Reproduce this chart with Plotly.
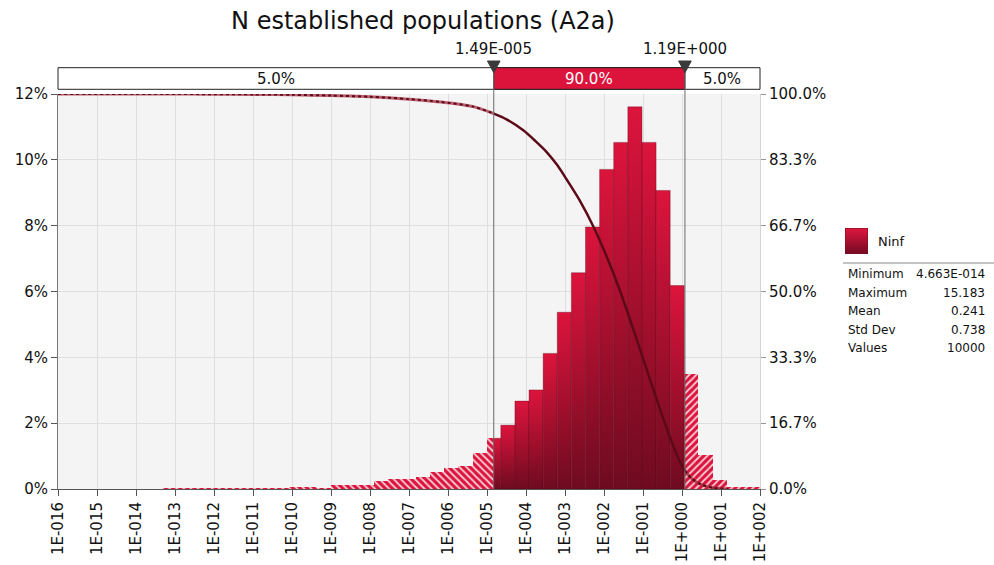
import numpy as np
import plotly.graph_objects as go

# ---------------------------------------------------------------- data
TITLE = "N established populations (A2a)"
SERIES = "Ninf"

# histogram: bins of equal width on a log10 scale, share of samples per bin (%)
BIN_START_LOG = np.log10(4.663e-14)
BIN_WIDTH_LOG = 0.3619
BIN_PCT = [0.02, 0.01, 0.01, 0.01, 0.01, 0.02, 0.01, 0.02,
           0.03, 0.04, 0.07, 0.02, 0.11, 0.11, 0.11, 0.23,
           0.30, 0.30, 0.36, 0.53, 0.65, 0.70, 1.08, 1.54,
           1.94, 2.67, 3.01, 4.12, 5.37, 6.57, 7.96, 9.71,
           10.53, 11.61, 10.53, 9.07, 6.18, 3.49, 1.03, 0.27,
           0.05, 0.05, 0.05]

# descending cumulative curve (log10 of value, % of samples above it)
CURVE_LOG = [-16.0, -13.3, -12.0, -11.0, -10.0, -9.0, -8.0, -7.0, -6.2,
             -5.35, -4.84, -4.5, -4.07, -3.75, -3.47, -3.2, -2.96, -2.62,
             -2.27, -1.93, -1.59, -1.25, -0.905, -0.564, -0.223, 0.033,
             0.25, 0.5, 0.8, 1.18]
CURVE_PCT = [100.0, 100.0, 99.95, 99.9, 99.8, 99.6, 99.3, 98.7, 98.0,
             96.8, 95.1, 93.6, 90.8, 88.0, 85.3, 82.0, 78.4, 73.0,
             66.4, 58.8, 50.2, 40.5, 30.2, 20.2, 10.8, 5.2,
             2.6, 1.1, 0.3, 0.0]

# delimiters (5th / 95th percentile) and the share in each band
P_LOW, P_HIGH = 1.49e-5, 1.19
BAND_PCT = [5.0, 90.0, 5.0]

# x axis decades and y axis ticks
DECADES = list(range(-16, 3))
LEFT_TICKS = [0, 2, 4, 6, 8, 10, 12]
RIGHT_TICKS = [0, 100 / 6, 200 / 6, 50, 400 / 6, 500 / 6, 100]

STATS_LABELS = ["Minimum", "Maximum", "Mean", "Std Dev", "Values"]
STATS_VALUES = ["4.663E-014", "15.183", "0.241", "0.738", "10000"]

# ---------------------------------------------------------------- style
FONT = "DejaVu Sans"
CRIMSON = "#dc143c"
DARK = "#6e0b20"
CURVE_DARK = "#5c0a18"

W, H = 994, 565
M_L, M_R, M_T, M_B = 58, 8, 94, 76
PLOT_R = 760                      # right edge of the histogram area (px)
PAPER_W = W - M_L - M_R
PAPER_H = H - M_T - M_B
X_DOMAIN_END = (PLOT_R - M_L) / PAPER_W


def px_x(p):
    return (p - M_L) / PAPER_W


def px_y(p):
    return (H - M_B - p) / PAPER_H


def sci(v, digits):
    e = int(np.floor(np.log10(v)))
    m = v / 10 ** e
    return f"{m:.{digits}f}E{e:+04d}"


lo_log, hi_log = np.log10(P_LOW), np.log10(P_HIGH)
x_min, x_max = DECADES[0], DECADES[-1]

fig = go.Figure()

# split every bin at the two delimiters
edges = BIN_START_LOG + BIN_WIDTH_LOG * np.arange(len(BIN_PCT) + 1)
left, mid, right = [], [], []
for a, b, h in zip(edges[:-1], edges[1:], BIN_PCT):
    if a < lo_log:
        left.append((a, min(b, lo_log), h))
    if b > lo_log and a < hi_log:
        mid.append((max(a, lo_log), min(b, hi_log), h))
    if b > hi_log:
        right.append((max(a, hi_log), b, h))


def hatched(parts, shape):
    return go.Bar(
        x=[(a + b) / 2 for a, b, _ in parts],
        y=[h for _, _, h in parts],
        width=[b - a for a, b, _ in parts],
        marker=dict(color=CRIMSON, line=dict(width=0),
                    pattern=dict(shape=shape, bgcolor=CRIMSON, fgcolor="white",
                                 fgopacity=0.8, size=5, solidity=0.35)),
        showlegend=False, hoverinfo="skip")


fig.add_trace(hatched(left, "\\"))
fig.add_trace(hatched(right, "/"))

# bars inside the 90% band: gradient from dark at the base to crimson at the top
for a, b, h in mid:
    fig.add_trace(go.Scatter(
        x=[a, a, b, b, a], y=[0, h, h, 0, 0], mode="lines", fill="toself",
        line=dict(color="rgba(90,0,20,0.35)", width=1),
        fillgradient=dict(type="vertical", colorscale=[[0, DARK], [1, CRIMSON]]),
        showlegend=False, hoverinfo="skip"))

# descending cumulative curve on the right axis
cx = np.array(CURVE_LOG)
cy = np.array(CURVE_PCT)
y_lo = float(np.interp(lo_log, cx, cy))
y_hi = float(np.interp(hi_log, cx, cy))
seg_left = (np.r_[cx[cx < lo_log], lo_log], np.r_[cy[cx < lo_log], y_lo])
inside = (cx > lo_log) & (cx < hi_log)
seg_mid = (np.r_[lo_log, cx[inside], hi_log], np.r_[y_lo, cy[inside], y_hi])
seg_right = (np.r_[hi_log, cx[cx > hi_log]], np.r_[y_hi, cy[cx > hi_log]])

for sx, sy in (seg_left, seg_right):
    fig.add_trace(go.Scatter(x=sx, y=sy, yaxis="y2", mode="lines",
                             line=dict(color="rgba(165,45,65,0.75)", width=3, shape="spline", smoothing=0.8),
                             showlegend=False, hoverinfo="skip"))
    fig.add_trace(go.Scatter(x=sx, y=sy, yaxis="y2", mode="lines",
                             line=dict(color=CURVE_DARK, width=2, dash="dot", shape="spline", smoothing=0.8),
                             showlegend=False, hoverinfo="skip"))
fig.add_trace(go.Scatter(x=seg_mid[0], y=seg_mid[1], yaxis="y2", mode="lines",
                         line=dict(color=CURVE_DARK, width=2.5, shape="spline", smoothing=0.8),
                         showlegend=False, hoverinfo="skip"))

# legend swatch on its own small hidden axes
fig.add_trace(go.Scatter(x=[0, 0, 1, 1, 0], y=[0, 1, 1, 0, 0], xaxis="x3", yaxis="y3",
                         mode="lines", fill="toself", line=dict(color="#7a1020", width=1),
                         fillgradient=dict(type="vertical", colorscale=[[0, "#730b22"], [1, "#e0163e"]]),
                         showlegend=False, hoverinfo="skip"))

# ---------------------------------------------------------------- band box above the plot
BOX_Y0, BOX_Y1 = px_y(89.3), px_y(67.7)
TRI_TOP, TRI_TIP = px_y(61), px_y(72.7)
shapes = [
    dict(type="rect", xref="paper", yref="paper", x0=0, x1=X_DOMAIN_END, y0=BOX_Y0, y1=BOX_Y1,
         fillcolor="white", line=dict(color="#222", width=1), layer="above"),
    dict(type="rect", xref="x", yref="paper", x0=lo_log, x1=hi_log, y0=BOX_Y0, y1=BOX_Y1,
         fillcolor=CRIMSON, line=dict(color="#222", width=1), layer="above"),
]
for xv in (lo_log, hi_log):
    shapes.append(dict(type="line", xref="x", yref="paper", x0=xv, x1=xv, y0=0, y1=BOX_Y1,
                       line=dict(color="#6a6a6a", width=1), layer="above"))
    hw = 0.162
    shapes.append(dict(type="path", xref="x", yref="paper",
                       path=f"M {xv - hw},{TRI_TOP} L {xv + hw},{TRI_TOP} L {xv},{TRI_TIP} Z",
                       fillcolor="#3a3a3a", line=dict(color="#3a3a3a", width=1), layer="above"))

annotations = []
band_centers = [(x_min + lo_log) / 2, (lo_log + hi_log) / 2, (hi_log + x_max) / 2]
for xc, pct, col in zip(band_centers, BAND_PCT, ["#111", "white", "#111"]):
    annotations.append(dict(x=xc, y=(BOX_Y0 + BOX_Y1) / 2, xref="x", yref="paper",
                            text=f"{pct:.1f}%", showarrow=False, yanchor="middle",
                            font=dict(family=FONT, size=15, color=col)))
for xv, val in ((lo_log, P_LOW), (hi_log, P_HIGH)):
    annotations.append(dict(x=xv, y=px_y(49), xref="x", yref="paper", text=sci(val, 2),
                            showarrow=False, yanchor="middle",
                            font=dict(family=FONT, size=15, color="#111")))

# ---------------------------------------------------------------- legend text and statistics
shapes.append(dict(type="line", xref="paper", yref="paper",
                   x0=px_x(843), x1=px_x(994), y0=px_y(263), y1=px_y(263),
                   line=dict(color="#8a8a8a", width=1), layer="above"))
annotations.append(dict(x=px_x(876), y=px_y(241), xref="paper", yref="paper", text=SERIES,
                        showarrow=False, xanchor="left", yanchor="middle",
                        font=dict(family=FONT, size=13, color="#111")))
for i, (lab, val) in enumerate(zip(STATS_LABELS, STATS_VALUES)):
    yy = px_y(274 + i * 18.5)
    annotations.append(dict(x=px_x(846), y=yy, xref="paper", yref="paper", text=lab,
                            showarrow=False, xanchor="left", yanchor="middle",
                            font=dict(family=FONT, size=12, color="#111")))
    annotations.append(dict(x=px_x(987), y=yy, xref="paper", yref="paper", text=val,
                            showarrow=False, xanchor="right", yanchor="middle",
                            font=dict(family=FONT, size=12, color="#111")))

# ---------------------------------------------------------------- layout
fig.update_layout(
    width=W, height=H,
    margin=dict(l=M_L, r=M_R, t=M_T, b=M_B, autoexpand=False),
    paper_bgcolor="white", plot_bgcolor="#f4f4f4",
    barmode="overlay", bargap=0,
    showlegend=False,
    title=dict(text=TITLE, x=px_x(423), xref="paper", xanchor="center",
               y=1 - 21 / H, yref="container", yanchor="middle",
               font=dict(family=FONT, size=24, color="#111")),
    xaxis=dict(domain=[0, X_DOMAIN_END], range=[x_min, x_max], tickmode="array", tickvals=DECADES,
               ticktext=[f"1E{d:+04d}" for d in DECADES], tickangle=-90, automargin=False,
               showgrid=True, gridcolor="#dedede", gridwidth=1, zeroline=False,
               showline=True, linecolor="#555", linewidth=1,
               ticks="outside", ticklen=6, tickcolor="#555",
               tickfont=dict(family=FONT, size=15, color="#111")),
    yaxis=dict(range=[0, 12], tickmode="array", tickvals=LEFT_TICKS, automargin=False,
               ticktext=[f"{v}%" for v in LEFT_TICKS],
               showgrid=True, gridcolor="#dedede", gridwidth=1, zeroline=False,
               showline=True, linecolor="#777", linewidth=1,
               ticks="outside", ticklen=6, tickcolor="#555",
               tickfont=dict(family=FONT, size=15, color="#111")),
    yaxis2=dict(range=[0, 100], overlaying="y", side="right", anchor="x", tickmode="array",
                tickvals=RIGHT_TICKS, ticktext=[f"{v:.1f}%" for v in RIGHT_TICKS], automargin=False,
                showgrid=False, zeroline=False, showline=True, linecolor="#d4d4d4",
                ticks="outside", ticklen=5, tickcolor="#999",
                tickfont=dict(family=FONT, size=15, color="#111")),
    xaxis3=dict(domain=[px_x(845), px_x(868)], range=[0, 1], anchor="y3", visible=False,
                fixedrange=True),
    yaxis3=dict(domain=[px_y(254), px_y(228)], range=[0, 1], anchor="x3", visible=False,
                fixedrange=True),
    shapes=shapes,
    annotations=annotations,
)

fig.write_html("out.html")
